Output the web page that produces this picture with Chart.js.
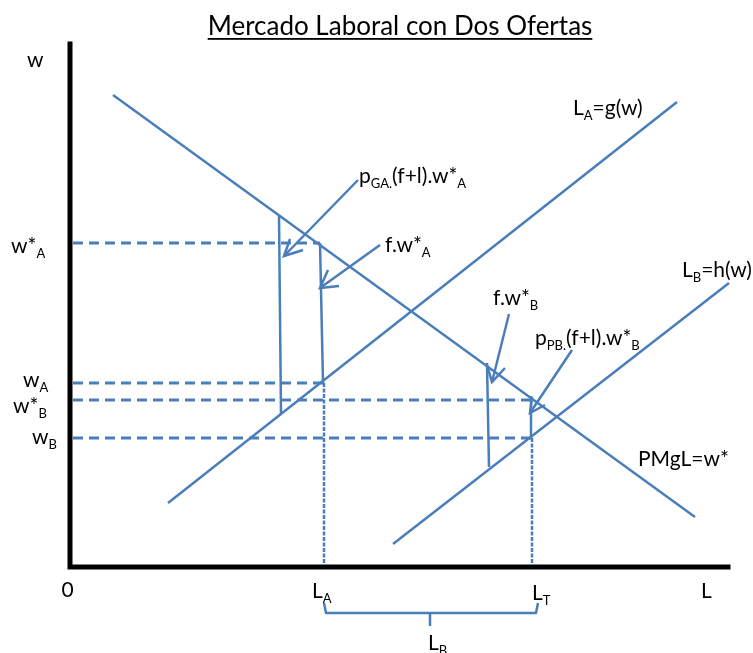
<!DOCTYPE html>
<html>
<head>
<meta charset="utf-8">
<script src="https://cdn.jsdelivr.net/npm/chart.js@4/dist/chart.umd.min.js"></script>
<style>
html,body{margin:0;padding:0;background:#fff;}
#c{display:block;}
</style>
</head>
<body>
<canvas id="c" width="753" height="653"></canvas>
<script>
// ---------- DATA (L = labour on x, w = wage on y) ----------
const pmglL = [4.3, 62.5];          // demand PMgL = w*
const pmglW = [47.2, 5.0];
const supplyAL = [9.8, 60.7];       // L_A = g(w)
const supplyAW = [6.4, 46.5];
const supplyBL = [32.3, 65.9];      // L_B = h(w)
const supplyBW = [2.3, 28.4];

const wageLabels = ['w*_{A}', 'w_{A}', 'w*_{B}', 'w_{B}'];
const wageLevels = [32.4, 18.4, 16.7, 12.9];
const wageLineEnds = [25.0, 25.3, 46.1, 46.1];

const qtyLabels = ['L_{A}', 'L_{T}'];
const qtyValues = [25.4, 46.2];
const qtyTops = [18.4, 12.9];

// vertical "wedge" segments between demand and supply
const wedgeTopL = [20.9, 25.0, 41.7, 46.1];
const wedgeTopW = [35.1, 32.4, 20.4, 17.1];
const wedgeBotL = [21.1, 25.3, 41.9, 46.1];
const wedgeBotW = [15.3, 18.4, 10.0, 12.9];

// annotation arrows
const arrowLabels = ['p_{GA.}(f+l).w*_{A}', 'f.w*_{A}', 'f.w*_{B}', 'p_{PB.}(f+l).w*_{B}'];
const arrowTailL = [28.8, 31.0, 43.9, 50.2];
const arrowTailW = [38.7, 32.2, 25.3, 21.7];
const arrowTipL = [21.4, 25.0, 42.2, 46.0];
const arrowTipW = [31.1, 27.9, 18.5, 15.4];
const arrowHead1L = [22.0, 25.8, 41.7, 46.2];
const arrowHead1W = [32.8, 29.7, 20.2, 17.0];
const arrowHead2L = [23.3, 26.9, 43.5, 47.5];
const arrowHead2W = [31.7, 28.1, 19.9, 16.2];

// brace below the axis between L_A and L_T
const braceL = [25.4, 25.6, 46.6, 46.8];
const braceW = [-3.6, -4.6, -4.6, -3.6];
const braceTickL = [36.0, 36.0];
const braceTickW = [-4.6, -5.9];

const axisL = [0, 0, 65.8];
const axisW = [52.3, 0, 0];

// ---------- STYLE / LAYOUT ----------
const BLUE = '#4A7EBB';
const FONT = 'Lato, "Open Sans", sans-serif';

function pts(xs, ys){ return xs.map((x,i)=>({x:x, y:ys[i]})); }
function seg(x1,y1,x2,y2){ return [{x:x1,y:y1},{x:x2,y:y2}]; }

const datasets = [];
function line(data, opts){
  datasets.push(Object.assign({data:data, showLine:true, pointRadius:0, borderColor:BLUE,
    borderWidth:2.5, fill:false, tension:0, borderCapStyle:'butt', clip:false}, opts||{}));
}
// axes
line(pts(axisL, axisW), {borderColor:'#000', borderWidth:5, borderJoinStyle:'miter', borderCapStyle:'square'});
// curves
line(pts(pmglL, pmglW));
line(pts(supplyAL, supplyAW));
line(pts(supplyBL, supplyBW));
// dashed wage levels
wageLevels.forEach((w,i)=> line(seg(0.3, w, wageLineEnds[i], w), {borderWidth:3, borderDash:[10,6]}));
// dotted quantity drops
qtyValues.forEach((q,i)=> line(seg(q, qtyTops[i], q, 0.3), {borderWidth:2.5, borderDash:[4,1.5]}));
// wedges
wedgeTopL.forEach((x,i)=> line(seg(x, wedgeTopW[i], wedgeBotL[i], wedgeBotW[i])));
// arrows
arrowTailL.forEach((x,i)=>{
  line(seg(x, arrowTailW[i], arrowTipL[i], arrowTipW[i]));
  line([{x:arrowHead1L[i],y:arrowHead1W[i]},{x:arrowTipL[i],y:arrowTipW[i]},{x:arrowHead2L[i],y:arrowHead2W[i]}], {borderJoinStyle:'miter'});
});
// brace
line(pts(braceL, braceW), {borderJoinStyle:'round'});
line(pts(braceTickL, braceTickW));

// text annotations: [text, L, w, align, size]
const texts = [
  ['w', -4.3, 50.0, 'left', 21],
  [wageLabels[0], -5.9, 31.4, 'left', 21],
  [wageLabels[1], -4.7, 18.0, 'left', 21],
  [wageLabels[2], -5.7, 15.4, 'left', 21],
  [wageLabels[3], -3.8, 12.3, 'left', 21],
  ['0', -0.25, -3.0, 'center', 21],
  [qtyLabels[0], 24.2, -3.1, 'left', 21],
  [qtyLabels[1], 46.2, -3.3, 'left', 21],
  ['L', 63.1, -3.1, 'left', 21],
  ['L_{B}', 35.8, -8.3, 'left', 21],
  ['L_{A}=g(w)', 50.3, 45.2, 'left', 21],
  ['L_{B}=h(w)', 61.2, 29.0, 'left', 21],
  [arrowLabels[0], 28.9, 38.4, 'left', 21],
  [arrowLabels[1], 31.5, 31.5, 'left', 21],
  [arrowLabels[2], 42.3, 26.2, 'left', 21],
  [arrowLabels[3], 46.5, 22.2, 'left', 21],
  ['PMgL=w*', 56.8, 10.1, 'left', 21]
];
const titleText = 'Mercado Laboral con Dos Ofertas';

function parseRich(s){
  const out = []; const re = /_\{([^}]*)\}/g; let last = 0, m;
  while((m = re.exec(s))){ if(m.index>last) out.push([s.slice(last,m.index),0]); out.push([m[1],1]); last = re.lastIndex; }
  if(last < s.length) out.push([s.slice(last),0]);
  return out;
}
function drawRich(ctx, s, x, y, size, align){
  const parts = parseRich(s);
  const sub = Math.round(size*0.62);
  let total = 0;
  parts.forEach(p=>{ ctx.font = (p[1]?sub:size)+'px '+FONT; total += ctx.measureText(p[0]).width; });
  let cx = align==='center' ? x-total/2 : (align==='right' ? x-total : x);
  parts.forEach(p=>{
    ctx.font = (p[1]?sub:size)+'px '+FONT;
    ctx.fillText(p[0], cx, p[1] ? y+size*0.22 : y);
    cx += ctx.measureText(p[0]).width;
  });
}

const textPlugin = {
  id:'texts',
  afterDraw(chart){
    const ctx = chart.ctx, xs = chart.scales.x, ys = chart.scales.y;
    ctx.save();
    ctx.fillStyle = '#000'; ctx.textBaseline = 'alphabetic'; ctx.textAlign = 'left';
    texts.forEach(t=> drawRich(ctx, t[0], xs.getPixelForValue(t[1]), ys.getPixelForValue(t[2]), t[4], t[3]));
    // title, underlined
    const tx = xs.getPixelForValue(33.0), ty = ys.getPixelForValue(53.2);
    ctx.font = '26px '+FONT;
    const tw = ctx.measureText(titleText).width;
    ctx.fillText(titleText, tx - tw/2, ty);
    ctx.fillRect(tx - tw/2, ty+3, tw, 1.8);
    ctx.restore();
  }
};

new Chart(document.getElementById('c'), {
  type:'scatter',
  data:{datasets:datasets},
  options:{
    responsive:false, animation:false, devicePixelRatio:1,
    layout:{padding:0},
    plugins:{legend:{display:false}, tooltip:{enabled:false}, title:{display:false}},
    scales:{
      x:{type:'linear', min:-7, max:68.3, display:false},
      y:{type:'linear', min:-8.6, max:56.7, display:false}
    }
  },
  plugins:[textPlugin]
});
</script>
</body>
</html>
